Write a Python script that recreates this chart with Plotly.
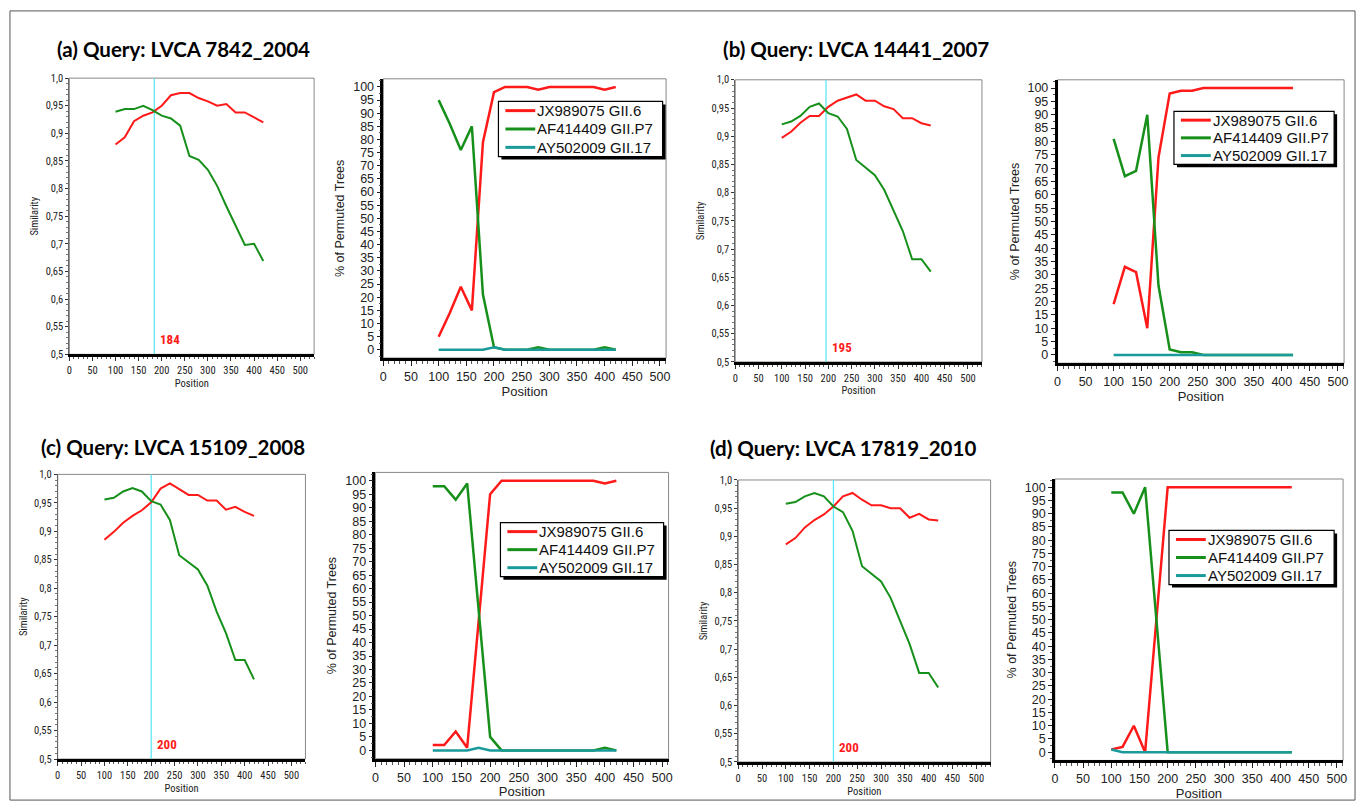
import plotly.graph_objects as go

# ---------------- data ----------------
positions = [100, 120, 140, 160, 180, 200, 220, 240, 260, 280, 300, 320, 340, 360, 380, 400, 420]

panel_titles = ["(a) Query: LVCA 7842_2004", "(b) Query: LVCA 14441_2007",
                "(c) Query: LVCA 15109_2008", "(d) Query: LVCA 17819_2010"]
breakpoints = [184, 195, 200, 200]
series_names = ["JX989075 GII.6", "AF414409 GII.P7", "AY502009 GII.17"]

# Similarity plots (red = JX989075 GII.6, green = AF414409 GII.P7)
sim_a_red = [0.880, 0.893, 0.922, 0.932, 0.938, 0.950, 0.969, 0.973, 0.973, 0.964, 0.958, 0.950, 0.953, 0.938, 0.938, 0.929, 0.920]
sim_a_green = [0.939, 0.944, 0.944, 0.950, 0.942, 0.932, 0.927, 0.914, 0.859, 0.852, 0.834, 0.805, 0.768, 0.732, 0.698, 0.700, 0.669]
sim_b_red = [0.897, 0.908, 0.924, 0.936, 0.936, 0.952, 0.963, 0.968, 0.974, 0.963, 0.963, 0.953, 0.948, 0.932, 0.932, 0.923, 0.919]
sim_b_green = [0.921, 0.926, 0.936, 0.952, 0.958, 0.941, 0.935, 0.913, 0.858, 0.845, 0.831, 0.805, 0.769, 0.732, 0.682, 0.682, 0.660]
sim_c_red = [0.885, 0.899, 0.915, 0.927, 0.937, 0.951, 0.975, 0.984, 0.974, 0.964, 0.964, 0.954, 0.954, 0.938, 0.943, 0.934, 0.927]
sim_c_green = [0.956, 0.959, 0.970, 0.976, 0.970, 0.953, 0.947, 0.920, 0.858, 0.846, 0.833, 0.805, 0.759, 0.721, 0.674, 0.674, 0.640]
sim_d_red = [0.886, 0.897, 0.916, 0.929, 0.939, 0.953, 0.971, 0.977, 0.965, 0.955, 0.955, 0.950, 0.950, 0.933, 0.940, 0.930, 0.928]
sim_d_green = [0.958, 0.961, 0.971, 0.977, 0.971, 0.953, 0.943, 0.910, 0.847, 0.834, 0.820, 0.791, 0.750, 0.709, 0.658, 0.658, 0.632]

# Bootscan plots (% of permuted trees)
boot_a_red = [5, 14, 24, 15, 79, 98, 100, 100, 100, 99, 100, 100, 100, 100, 100, 99, 100]
boot_a_green = [95, 86, 76, 85, 21, 1, 0, 0, 0, 1, 0, 0, 0, 0, 0, 1, 0]
boot_a_teal = [0, 0, 0, 0, 0, 1, 0, 0, 0, 0, 0, 0, 0, 0, 0, 0, 0]
boot_b_red = [19, 33, 31, 10, 74, 98, 99, 99, 100, 100, 100, 100, 100, 100, 100, 100, 100]
boot_b_green = [81, 67, 69, 90, 26, 2, 1, 1, 0, 0, 0, 0, 0, 0, 0, 0, 0]
boot_b_teal = [0, 0, 0, 0, 0, 0, 0, 0, 0, 0, 0, 0, 0, 0, 0, 0, 0]
boot_c_red = [2, 2, 7, 1, 48, 95, 100, 100, 100, 100, 100, 100, 100, 100, 100, 99, 100]
boot_c_green = [98, 98, 93, 99, 52, 5, 0, 0, 0, 0, 0, 0, 0, 0, 0, 1, 0]
boot_c_teal = [0, 0, 0, 0, 1, 0, 0, 0, 0, 0, 0, 0, 0, 0, 0, 0, 0]
boot_d_red = [1, 2, 10, 0, 50, 100, 100, 100, 100, 100, 100, 100, 100, 100, 100, 100, 100]
boot_d_green = [98, 98, 90, 100, 50, 0, 0, 0, 0, 0, 0, 0, 0, 0, 0, 0, 0]
boot_d_teal = [1, 0, 0, 0, 0, 0, 0, 0, 0, 0, 0, 0, 0, 0, 0, 0, 0]

sim_tick_vals = [0.5, 0.55, 0.6, 0.65, 0.7, 0.75, 0.8, 0.85, 0.9, 0.95, 1.0]
sim_tick_text = ["0,5", "0,55", "0,6", "0,65", "0,7", "0,75", "0,8", "0,85", "0,9", "0,95", "1,0"]

sim_data = [(sim_a_red, sim_a_green), (sim_b_red, sim_b_green),
            (sim_c_red, sim_c_green), (sim_d_red, sim_d_green)]
boot_data = [(boot_a_red, boot_a_green, boot_a_teal), (boot_b_red, boot_b_green, boot_b_teal),
             (boot_c_red, boot_c_green, boot_c_teal), (boot_d_red, boot_d_green, boot_d_teal)]

# ---------------- layout geometry (pixels) ----------------
W, H = 1364, 812
SIM_BOXES = [(66.7, 73.3, 312.7, 354.0), (736, 75, 984, 361.7),
             (55, 476, 304, 765.3), (739, 481.7, 992.7, 768.3)]
BOOT_BOXES = [(382.3, 74, 666.5, 357.7), (1060, 75, 1348, 363),
              (374.3, 474, 669, 765), (1057.3, 480.7, 1347, 766.7)]
LEGEND_BOXES = [(498, 97, 663, 153), (1177, 107, 1338, 161),
                (500, 525, 664, 580), (1172, 533, 1338, 588)]
TITLE_POS = [(52, 44), (722, 44), (36, 448), (709, 449)]

RED = "#ff1a1a"
GREEN = "#16901a"
TEAL = "#1a9a9a"
CYAN = "#5ee8f2"
NARROW = "Liberation Sans Narrow, Arial Narrow, Roboto Condensed, Liberation Sans, Arial, sans-serif"
ARIAL = "Liberation Sans, Arial, sans-serif"


def fx(p):
    return p / W


def fy(p):
    return 1 - p / H


def axn(kind, n):
    return f"{kind}axis" + ("" if n == 1 else str(n))


def axr(kind, n):
    return kind + ("" if n == 1 else str(n))


fig = go.Figure()
layout = dict(width=W, height=H, margin=dict(l=0, r=0, t=0, b=0), autosize=False,
              paper_bgcolor="white", plot_bgcolor="white", showlegend=False)
shapes = []
annotations = []

for i in range(4):
    ns, nb = 2 * i + 1, 2 * i + 2
    xs, ys = axr("x", ns), axr("y", ns)
    xb, yb = axr("x", nb), axr("y", nb)

    # ---- similarity plot ----
    red, green = sim_data[i]
    fig.add_trace(go.Scatter(x=positions, y=red, mode="lines", xaxis=xs, yaxis=ys,
                             line=dict(color=RED, width=2), name=series_names[0]))
    fig.add_trace(go.Scatter(x=positions, y=green, mode="lines", xaxis=xs, yaxis=ys,
                             line=dict(color=GREEN, width=2), name=series_names[1]))
    b = SIM_BOXES[i]
    layout[axn("x", ns)] = dict(
        domain=[fx(b[0]), fx(b[2])], anchor=ys, range=[0, 530],
        tick0=0, dtick=50, ticks="outside", ticklen=4, tickcolor="#333",
        minor=dict(dtick=10, ticks="outside", ticklen=2, tickcolor="#555"),
        showline=True, linecolor="black", linewidth=3, showgrid=False, zeroline=False,
        tickfont=dict(family=NARROW, size=10.5, color="#222"),
        title=dict(text="Position", font=dict(family=NARROW, size=10.5, color="#222"), standoff=1))
    layout[axn("y", ns)] = dict(
        domain=[fy(b[3]), fy(b[1])], anchor=xs, range=[0.5, 1.0],
        tickvals=sim_tick_vals, ticktext=sim_tick_text, ticks="outside", ticklen=3,
        tickcolor="#333", minor=dict(dtick=0.01, ticks="outside", ticklen=2, tickcolor="#777"),
        showline=True, linecolor="#666", linewidth=1, showgrid=False, zeroline=False,
        tickfont=dict(family=NARROW, size=10.5, color="#222"),
        title=dict(text="Similarity", font=dict(family=NARROW, size=10.5, color="#222"), standoff=4))
    shapes.append(dict(type="rect", xref=f"{xs} domain", yref=f"{ys} domain", x0=0, x1=1, y0=0, y1=1,
                       line=dict(color="#888", width=1), layer="below"))
    shapes.append(dict(type="line", xref=xs, yref=f"{ys} domain", x0=breakpoints[i], x1=breakpoints[i],
                       y0=0, y1=1, line=dict(color=CYAN, width=1.3), layer="below"))
    annotations.append(dict(text=f"<b>{breakpoints[i]}</b>", x=breakpoints[i], y=0.5, xref=xs, yref=ys,
                            xanchor="left", yanchor="bottom", xshift=4, yshift=5, showarrow=False,
                            font=dict(family=NARROW, size=13, color=RED)))

    # ---- bootscan plot ----
    for vals, col, nm in zip(boot_data[i], [RED, GREEN, TEAL], series_names):
        fig.add_trace(go.Scatter(x=positions, y=vals, mode="lines", xaxis=xb, yaxis=yb,
                                 line=dict(color=col, width=2.5), name=nm))
    b = BOOT_BOXES[i]
    layout[axn("x", nb)] = dict(
        domain=[fx(b[0]), fx(b[2])], anchor=yb, range=[0, 511],
        tick0=0, dtick=50, ticks="outside", ticklen=5, tickcolor="#222",
        minor=dict(dtick=10, ticks="outside", ticklen=3, tickcolor="#555"),
        showline=True, linecolor="black", linewidth=2.5, showgrid=False, zeroline=False,
        tickfont=dict(family=ARIAL, size=12.5, color="#222"),
        title=dict(text="Position", font=dict(family=ARIAL, size=13, color="#222"), standoff=2))
    layout[axn("y", nb)] = dict(
        domain=[fy(b[3]), fy(b[1])], anchor=xb, range=[-3.1, 103.1],
        tick0=0, dtick=5, ticks="outside", ticklen=4, tickcolor="#222",
        minor=dict(dtick=2.5, ticks="outside", ticklen=2, tickcolor="#555"),
        showline=True, linecolor="black", linewidth=2.5, showgrid=False, zeroline=False,
        tickfont=dict(family=ARIAL, size=12.5, color="#222"),
        title=dict(text="% of Permuted Trees", font=dict(family=ARIAL, size=12.5, color="#222"), standoff=6))
    shapes.append(dict(type="rect", xref=f"{xb} domain", yref=f"{yb} domain", x0=0, x1=1, y0=0, y1=1,
                       line=dict(color="#888", width=1), layer="below"))

    # legend box with shadow, line samples and entry labels
    lb = LEGEND_BOXES[i]
    shapes.append(dict(type="rect", xref="paper", yref="paper",
                       x0=fx(lb[0] + 3), x1=fx(lb[2] + 3), y0=fy(lb[3] + 3), y1=fy(lb[1] + 3),
                       fillcolor="black", line=dict(width=0), layer="above"))
    shapes.append(dict(type="rect", xref="paper", yref="paper",
                       x0=fx(lb[0]), x1=fx(lb[2]), y0=fy(lb[3]), y1=fy(lb[1]),
                       fillcolor="white", line=dict(color="black", width=1.2), layer="above"))
    row_h = (lb[3] - lb[1]) / 3.0
    for k, (col, nm) in enumerate(zip([RED, GREEN, TEAL], series_names)):
        yc = lb[1] + row_h * (k + 0.5)
        shapes.append(dict(type="line", xref="paper", yref="paper",
                           x0=fx(lb[0] + 7), x1=fx(lb[0] + 37), y0=fy(yc), y1=fy(yc),
                           line=dict(color=col, width=3), layer="above"))
        annotations.append(dict(text=nm, x=fx(lb[0] + 37), y=fy(yc), xref="paper", yref="paper",
                                xanchor="left", yanchor="middle", showarrow=False,
                                font=dict(family=ARIAL, size=15, color="#111")))

    # panel title
    tx, ty = TITLE_POS[i]
    annotations.append(dict(text=f"<b>{panel_titles[i]}</b>", x=fx(tx), y=fy(ty), xref="paper", yref="paper",
                            xanchor="left", yanchor="middle", showarrow=False,
                            font=dict(family="Lato, Open Sans, sans-serif", size=20.5, color="black")))

# overall frame
shapes.append(dict(type="rect", xref="paper", yref="paper", x0=fx(7), x1=fx(1359), y0=fy(807), y1=fy(5),
                   line=dict(color="#555", width=1), layer="below"))

layout["shapes"] = shapes
layout["annotations"] = annotations
fig.update_layout(**layout)

fig.write_html("out.html", config={"displayModeBar": False},
               post_script="document.body.style.margin='0';document.body.style.overflow='hidden';")
